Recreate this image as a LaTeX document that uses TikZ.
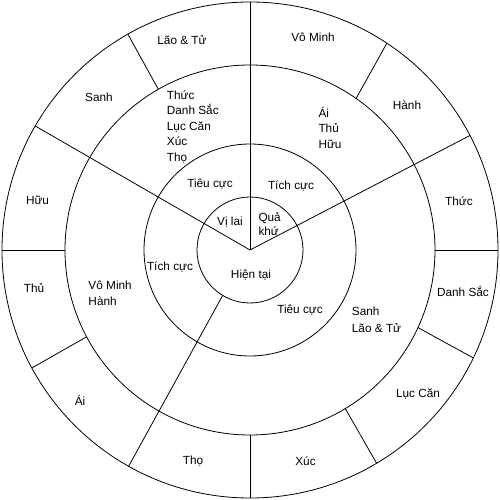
\documentclass[tikz,border=0pt]{standalone}
\usepackage{fontspec}
\setmainfont{Liberation Sans}
\begin{document}
\begin{tikzpicture}[x=1pt,y=1pt,
  ring/.style={line width=0.8pt},
  seg/.style={line width=0.8pt},
  lbl/.style={anchor=base,inner sep=0pt,font=\fontsize{11.8}{15.5}\selectfont},
  lblw/.style={anchor=base west,inner sep=0pt,font=\fontsize{11.8}{15.5}\selectfont}]
\useasboundingbox (-250,-250) rectangle (250,250);
\coordinate (O) at (0,0);
% circles
\draw[ring] (O) circle[radius=53pt];
\draw[ring] (O) circle[radius=106pt];
\draw[ring] (O) circle[radius=185pt];
\draw[ring] (O) circle[radius=248pt];
% long radial lines
\coordinate (L1) at (27.5:248);
\coordinate (L2) at (90:248);
\coordinate (L3) at (150:248);
\coordinate (L4a) at (239:53);
\coordinate (L4b) at (240.7:248);
\draw[seg] (O) -- (L1);
\draw[seg] (O) -- (L2);
\draw[seg] (O) -- (L3);
\draw[seg] (L4a) -- (L4b);
% outer ring dividers
\coordinate (d1a) at (0:185);     \coordinate (d1b) at (0:248);
\coordinate (d2a) at (55:185);    \coordinate (d2b) at (56.5:248);
\coordinate (d3a) at (119.7:185); \coordinate (d3b) at (119.5:248);
\coordinate (d4a) at (180:185);   \coordinate (d4b) at (180:248);
\coordinate (d5a) at (208:185);   \coordinate (d5b) at (208.4:248);
\coordinate (d6a) at (270:185);   \coordinate (d6b) at (270:248);
\coordinate (d7a) at (301:185);   \coordinate (d7b) at (300.7:248);
\coordinate (d8a) at (335.2:185); \coordinate (d8b) at (334.2:248);
\foreach \i in {1,...,8} {\draw[seg] (d\i a) -- (d\i b);}
% outer labels
\node[lbl] (o1) at (63,208) {Vô Minh};
\node[lbl] (o2) at (157,140) {Hành};
\node[lbl] (o3) at (209,44) {Thức};
\node[lbl] (o4) at (213,-46) {Danh Sắc};
\node[lbl] (o5) at (168,-147) {Lục Căn};
\node[lbl] (o6) at (55.5,-215) {Xúc};
\node[lbl] (o7) at (-57,-214.5) {Thọ};
\node[lbl] (o8) at (-170,-155.7) {Ái};
\node[lbl] (o9) at (-216,-43) {Thủ};
\node[lbl] (o10) at (-212.5,45) {Hữu};
\node[lbl] (o11) at (-151,148) {Sanh};
\node[lbl] (o12) at (-68,205) {Lão \& Tử};
% third ring labels
\node[lblw] (t1) at (-83.3,150.5) {Thức};
\node[lblw] (t2) at (-83.3,135) {Danh Sắc};
\node[lblw] (t3) at (-83.3,119.5) {Lục Căn};
\node[lblw] (t4) at (-83.3,104) {Xúc};
\node[lblw] (t5) at (-83.3,88.5) {Thọ};
\node[lblw] (t6) at (68.3,132.5) {Ái};
\node[lblw] (t7) at (68.3,117.5) {Thủ};
\node[lblw] (t8) at (68.3,101.5) {Hữu};
\node[lblw] (t9) at (-161.7,-39.5) {Vô Minh};
\node[lblw] (t10) at (-161.7,-56) {Hành};
\node[lblw] (t11) at (101.7,-66) {Sanh};
\node[lblw] (t12) at (101.7,-82) {Lão \& Tử};
% second ring labels
\node[lbl] (s1) at (-40,62.5) {Tiêu cực};
\node[lbl] (s2) at (41,60) {Tích cực};
\node[lbl] (s3) at (-80,-20.5) {Tích cực};
\node[lbl] (s4) at (50,-63.5) {Tiêu cực};
% inner labels
\node[lbl] (i1) at (-20,24) {Vị lai};
\node[lblw] (i2) at (8.3,28) {Quả};
\node[lblw] (i3) at (8.3,14) {khứ};
\node[lbl] (i4) at (1,-28.5) {Hiện tại};
\end{tikzpicture}
\end{document}
